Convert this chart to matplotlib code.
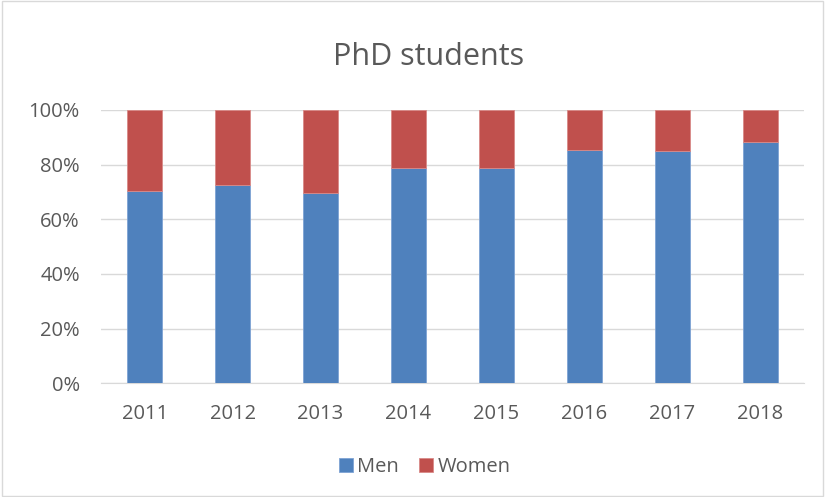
import matplotlib.pyplot as plt
from matplotlib.patches import Rectangle
from matplotlib.ticker import PercentFormatter

years = ['2011', '2012', '2013', '2014', '2015', '2016', '2017', '2018']
men = [70.3, 72.4, 69.4, 78.6, 78.6, 85.2, 84.8, 88.1]
women = [100 - m for m in men]

plt.rcParams['font.family'] = ['Open Sans', 'DejaVu Sans']

fig = plt.figure(figsize=(8.25, 4.97), dpi=100)
ax = fig.add_axes([0.122, 0.229, 0.853, 0.550])

x = range(len(years))
ax.bar(x, men, width=0.4, color='#4F81BD', edgecolor='#7EA3D4', linewidth=0.6, label='Men', zorder=3)
ax.bar(x, women, width=0.4, bottom=men, color='#C0504D', edgecolor='#D98A88', linewidth=0.6, label='Women', zorder=3)

ax.set_xlim(-0.5, len(years) - 0.5)
ax.set_ylim(0, 100)
ax.set_yticks([0, 20, 40, 60, 80, 100])
ax.yaxis.set_major_formatter(PercentFormatter(decimals=0))
ax.set_xticks(list(x))
ax.set_xticklabels(years)
ax.grid(axis='y', color='#D9D9D9', linewidth=1, zorder=0)
for s in ['top', 'right', 'left']:
    ax.spines[s].set_visible(False)
ax.spines['bottom'].set_color('#D9D9D9')
ax.tick_params(axis='both', length=0, labelsize=14.5, colors='#595959')
ax.tick_params(axis='y', pad=15)
ax.tick_params(axis='x', pad=15)

fig.text(0.519, 0.885, 'PhD students', ha='center', va='center', fontsize=22, color='#595959')

fig.legend(loc='center', bbox_to_anchor=(0.515, 0.06), ncol=2, frameon=False,
           fontsize=14.5, labelcolor='#595959', handlelength=0.7, handleheight=0.7,
           handletextpad=0.2, columnspacing=1.0)

fig.patches.append(Rectangle((0.002, 0.002), 0.996, 0.996, transform=fig.transFigure,
                             fill=False, edgecolor='#D9D9D9', linewidth=1))

fig.savefig('out.png', dpi=100)
